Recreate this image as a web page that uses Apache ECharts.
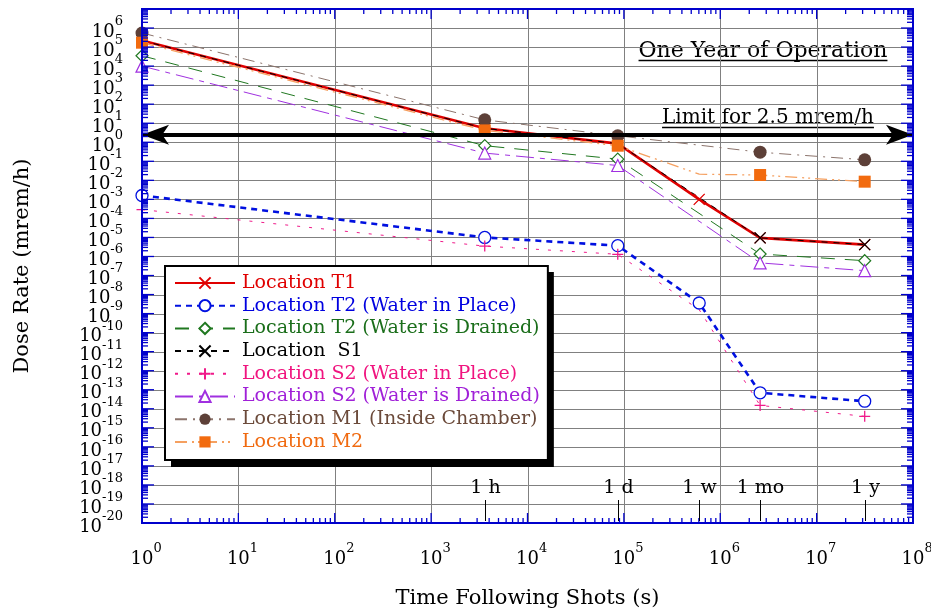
<!DOCTYPE html>
<html>
<head>
<meta charset="utf-8">
<script src="https://cdn.jsdelivr.net/npm/echarts@6/dist/echarts.min.js"></script>
<style>
  html, body { margin: 0; padding: 0; background: #fff; }
  #chart { width: 931px; height: 614px; }
</style>
</head>
<body>
<div id="chart"></div>
<script>
// Sampling times after the shot (s): 1 s, 1 h, 1 d, 1 w, 1 mo, 1 y
const times = [1, 3600, 86400, 604800, 2592000, 31536000];

// Dose rates in mrem/h for each location (null: not sampled at that time)
const t1    = [2.2e5, 5.4, 0.85, 1.0e-3, 9.5e-6, 4.2e-6];
const t2Wet = [1.6e-3, 1.0e-5, 3.7e-6, 3.6e-9, 6.9e-14, 2.5e-14];
const t2Dry = [3.5e4, 0.66, 0.13, null, 1.35e-6, 6.0e-7];
const s1    = [2.2e5, 5.4, 0.85, null, 9.5e-6, 4.2e-6];
const s2Wet = [2.9e-4, 3.5e-6, 1.3e-6, 1.6e-9, 1.5e-14, 4.0e-15];
const s2Dry = [1.0e4, 0.27, 0.06, null, 4.6e-7, 1.8e-7];
const m1    = [5.5e5, 15, 2.2, null, 0.3, 0.12];
const m2    = [1.7e5, 4.2, 0.66, 0.021, 0.019, 0.0085];
// samples that are plotted without a marker
const s2WetPlain = [3];
const m2Plain = [3];

// dose-rate limit drawn as a double arrow
const limitDose = 2.5;

// named times marked along the bottom axis
const timeMarks = [3600, 86400, 604800, 2592000, 31536000];
const timeMarkLabels = ['1 h', '1 d', '1 w', '1 mo', '1 y'];

// decade exponents for the axes (tick labels are 10^exp)
const xDecadeExps = [0, 1, 2, 3, 4, 5, 6, 7, 8];
const yDecadeExps = [-20, -19, -18, -17, -16, -15, -14, -13, -12, -11, -10, -9, -8, -7,
                     -6, -5, -4, -3, -2, -1, 0, 1, 2, 3, 4, 5, 6, 7];
const yLabelMaxExp = 6;

const X_MIN = 1, X_MAX = 1e8, Y_MIN = 1e-20, Y_MAX = 1e7;
const FONT = 'DejaVu Serif';
const SERIF = '"DejaVu Serif", serif';
const BLUE = '#0000cc';
const GRID_GRAY = '#808080';
const MINOR = [2, 3, 4, 5, 6, 7, 8, 9];
const CROSS = 'path://M0,0L10,10M10,0L0,10';
const PLUS = 'path://M5,0L5,10M0,5L10,5';

function pairs(vals, plain) {
  const out = [];
  times.forEach((t, i) => {
    if (vals[i] == null) return;
    if (plain && plain.indexOf(i) >= 0) out.push({ value: [t, vals[i]], symbol: 'none' });
    else out.push([t, vals[i]]);
  });
  return out;
}

function seg(x1, y1, x2, y2, color, w) {
  return { type: 'line', shape: { x1, y1, x2, y2 }, style: { stroke: color, lineWidth: w } };
}

const supRich = {
  b: { fontSize: 18, fontFamily: FONT, fill: '#000', lineHeight: 26, verticalAlign: 'bottom' },
  s: { fontSize: 13, fontFamily: FONT, fill: '#000', lineHeight: 13, verticalAlign: 'top' }
};
function powLabel(exp) { return '{b|10}{s|' + exp + '}'; }

function measure(str, size) {
  const ctx = document.createElement('canvas').getContext('2d');
  ctx.font = size + 'px "' + FONT + '"';
  return ctx.measureText(str).width;
}

function underlinedText(str, size, cx, cy, uy) {
  const w = measure(str, size);
  return {
    type: 'group', z: 10,
    children: [
      { type: 'text', x: cx, y: cy, style: { text: str, font: size + 'px ' + SERIF, fill: '#000', align: 'center', verticalAlign: 'middle' } },
      { type: 'line', shape: { x1: cx - w / 2, y1: uy, x2: cx + w / 2, y2: uy }, style: { stroke: '#000', lineWidth: 1.3 } }
    ]
  };
}

function lineSeries(name, vals, plain, opts) {
  return Object.assign({
    name: name,
    type: 'line',
    data: pairs(vals, plain),
    clip: false,
    symbolSize: 11,
    emphasis: { disabled: true }
  }, opts);
}

const names = [
  'Location T1',
  'Location T2 (Water in Place)',
  'Location T2 (Water is Drained)',
  'Location  S1',
  'Location S2 (Water in Place)',
  'Location S2 (Water is Drained)',
  'Location M1 (Inside Chamber)',
  'Location M2'
];
const textColors = ['#e00000', '#0000e0', '#1a6e1a', '#000000', '#f0147f', '#a020d8', '#6b4a3a', '#f06a10'];

// legend box geometry (used for its drop shadow)
const LEG = { left: 165, top: 266, pad: [6, 8, 7, 9], itemW: 60, rowH: 22, gap: 0.7, font: 19 };
const legendTextW = Math.max.apply(null, names.map(n => measure(n, LEG.font)));
const legendW = LEG.pad[3] + LEG.itemW + 5 + 2 + legendTextW + LEG.pad[1];
const legendH = LEG.pad[0] + names.length * LEG.rowH + (names.length - 1) * LEG.gap + LEG.pad[2];

const series = [
  // gridlines
  {
    type: 'custom', z: 1, silent: true,
    data: xDecadeExps.map(e => [Math.pow(10, e), Y_MIN]),
    renderItem(params, api) {
      const cs = params.coordSys;
      const x = Math.round(api.coord([api.value(0), Y_MIN])[0]) + 0.5;
      return seg(x, cs.y, x, cs.y + cs.height, GRID_GRAY, 1);
    }
  },
  {
    type: 'custom', z: 1, silent: true,
    data: yDecadeExps.map(e => [X_MIN, Math.pow(10, e)]),
    renderItem(params, api) {
      const cs = params.coordSys;
      const y = Math.round(api.coord([X_MIN, api.value(1)])[1]) + 0.5;
      return seg(cs.x, y, cs.x + cs.width, y, GRID_GRAY, 1);
    }
  },
  // frame, x ticks and x labels
  {
    type: 'custom', z: 6, silent: true,
    data: xDecadeExps.map(e => [Math.pow(10, e), Y_MIN]),
    renderItem(params, api) {
      const cs = params.coordSys;
      const v = api.value(0);
      const e = xDecadeExps[params.dataIndex];
      const bot = cs.y + cs.height, top = cs.y;
      const x = api.coord([v, Y_MIN])[0];
      const ch = [seg(x, bot, x, bot - 10, BLUE, 1.3), seg(x, top, x, top + 10, BLUE, 1.3)];
      if (v < X_MAX) {
        MINOR.forEach(m => {
          const xm = api.coord([m * v, Y_MIN])[0];
          ch.push(seg(xm, bot, xm, bot - 5, BLUE, 1.3), seg(xm, top, xm, top + 5, BLUE, 1.3));
        });
      }
      ch.push({ type: 'text', x: x - 11.5, y: bot + 32,
        style: { text: powLabel(e), rich: supRich, font: '18px ' + SERIF, align: 'left', verticalAlign: 'middle' } });
      if (params.dataIndex === 0) {
        ch.push({ type: 'rect', shape: { x: cs.x, y: cs.y, width: cs.width, height: cs.height },
          style: { fill: 'none', stroke: BLUE, lineWidth: 2 } });
      }
      return { type: 'group', children: ch };
    }
  },
  // y ticks and y labels
  {
    type: 'custom', z: 6, silent: true,
    data: yDecadeExps.map(e => [X_MIN, Math.pow(10, e)]),
    renderItem(params, api) {
      const cs = params.coordSys;
      const v = api.value(1);
      const e = yDecadeExps[params.dataIndex];
      const left = cs.x, right = cs.x + cs.width;
      const y = api.coord([X_MIN, v])[1];
      const ch = [seg(left, y, left + 12, y, BLUE, 1.3), seg(right, y, right - 12, y, BLUE, 1.3)];
      if (v < Y_MAX) {
        MINOR.forEach(m => {
          const ym = api.coord([X_MIN, m * v])[1];
          ch.push(seg(left, ym, left + 6, ym, BLUE, 1.3), seg(right, ym, right - 6, ym, BLUE, 1.3));
        });
      }
      if (e <= yLabelMaxExp) {
        ch.push({ type: 'text', x: left - 19, y: y,
          style: { text: powLabel(e), rich: supRich, font: '18px ' + SERIF, align: 'right', verticalAlign: 'middle' } });
      }
      return { type: 'group', children: ch };
    }
  },
  // named time marks
  {
    type: 'custom', z: 6, silent: true,
    data: timeMarks.map(t => [t, Y_MIN]),
    renderItem(params, api) {
      const cs = params.coordSys;
      const bot = cs.y + cs.height;
      const x = Math.round(api.coord([api.value(0), Y_MIN])[0]) + 0.5;
      return { type: 'group', children: [
        seg(x, bot - 2, x, bot - 23, '#000', 1),
        { type: 'text', x: x, y: bot - 35,
          style: { text: timeMarkLabels[params.dataIndex], font: '19px ' + SERIF, fill: '#000', align: 'center', verticalAlign: 'middle' } }
      ] };
    }
  },
  lineSeries(names[0], t1, null, {
    symbol: CROSS,
    lineStyle: { color: '#e00000', width: 2.6 },
    itemStyle: { color: '#e00000', borderColor: '#e00000', borderWidth: 1.3 },
    markLine: {
      silent: true,
      symbol: ['arrow', 'arrow'],
      symbolSize: [15, 27],
      lineStyle: { color: '#000', width: 4, type: 'solid' },
      label: { show: false },
      data: [[{ coord: [X_MIN, limitDose] }, { coord: [X_MAX, limitDose] }]]
    }
  }),
  lineSeries(names[1], t2Wet, null, {
    symbol: 'circle', symbolSize: 12,
    lineStyle: { color: '#0010e0', width: 2.6, type: [6, 5] },
    itemStyle: { color: '#fff', borderColor: '#0010e0', borderWidth: 1.3 }
  }),
  lineSeries(names[2], t2Dry, null, {
    symbol: 'diamond', symbolSize: 12,
    lineStyle: { color: '#207820', width: 1, type: [14, 10] },
    itemStyle: { color: '#fff', borderColor: '#207820', borderWidth: 1.2 }
  }),
  lineSeries(names[3], s1, null, {
    symbol: CROSS,
    lineStyle: { color: '#000', width: 1, type: [6, 6] },
    itemStyle: { color: '#000', borderColor: '#000', borderWidth: 1.2 }
  }),
  lineSeries(names[4], s2Wet, s2WetPlain, {
    symbol: PLUS,
    lineStyle: { color: '#f01a8a', width: 1, type: [3, 9] },
    itemStyle: { color: '#f01a8a', borderColor: '#f01a8a', borderWidth: 1.3 }
  }),
  lineSeries(names[5], s2Dry, null, {
    symbol: 'triangle', symbolSize: 12,
    lineStyle: { color: '#a030e0', width: 1, type: [18, 6, 5, 6] },
    itemStyle: { color: '#fff', borderColor: '#a030e0', borderWidth: 1.2 }
  }),
  lineSeries(names[6], m1, null, {
    symbol: 'circle', symbolSize: 13,
    lineStyle: { color: '#8c746c', width: 1, type: [12, 6, 2, 6] },
    itemStyle: { color: '#5d4038' }
  }),
  lineSeries(names[7], m2, m2Plain, {
    symbol: 'rect', symbolSize: 12,
    lineStyle: { color: '#f5a060', width: 1.3, type: [12, 5, 2, 4, 2, 5] },
    itemStyle: { color: '#f26b0f' }
  })
];

const chart = echarts.init(document.getElementById('chart'), null, { renderer: 'canvas' });
chart.setOption({
  animation: false,
  backgroundColor: '#fff',
  grid: { left: 142, right: 18, top: 9, bottom: 91, containLabel: false },
  xAxis: {
    type: 'log', logBase: 10, min: X_MIN, max: X_MAX,
    name: 'Time Following Shots (s)', nameLocation: 'middle', nameGap: 65,
    nameTextStyle: { fontFamily: SERIF, fontSize: 21, color: '#000' },
    axisLine: { show: false }, axisTick: { show: false }, axisLabel: { show: false },
    splitLine: { show: false }, minorTick: { show: false }
  },
  yAxis: {
    type: 'log', logBase: 10, min: Y_MIN, max: Y_MAX,
    name: 'Dose Rate (mrem/h)', nameLocation: 'middle', nameGap: 109,
    nameTextStyle: { fontFamily: SERIF, fontSize: 21, color: '#000' },
    axisLine: { show: false }, axisTick: { show: false }, axisLabel: { show: false },
    splitLine: { show: false }, minorTick: { show: false }
  },
  legend: {
    data: names.map((n, i) => ({ name: n, textStyle: { color: textColors[i] } })),
    orient: 'vertical', left: LEG.left, top: LEG.top,
    itemWidth: LEG.itemW, itemHeight: 14, itemGap: LEG.gap,
    padding: LEG.pad,
    backgroundColor: '#fff', borderColor: '#000', borderWidth: 2,
    textStyle: { fontFamily: SERIF, fontSize: LEG.font, lineHeight: LEG.rowH, padding: [0, 0, 0, 2] },
    selectedMode: false
  },
  graphic: [
    // drop shadow behind the legend box
    { type: 'rect', z: 3, silent: true,
      shape: { x: LEG.left + 6, y: LEG.top + 6, width: legendW + 1, height: legendH + 1 },
      style: { fill: '#000' } },
    underlinedText('One Year of Operation', 22, 763, 51, 60.5),
    underlinedText('Limit for ' + limitDose + ' mrem/h', 20, 768, 118, 127.5)
  ],
  series: series
});
</script>
</body>
</html>
